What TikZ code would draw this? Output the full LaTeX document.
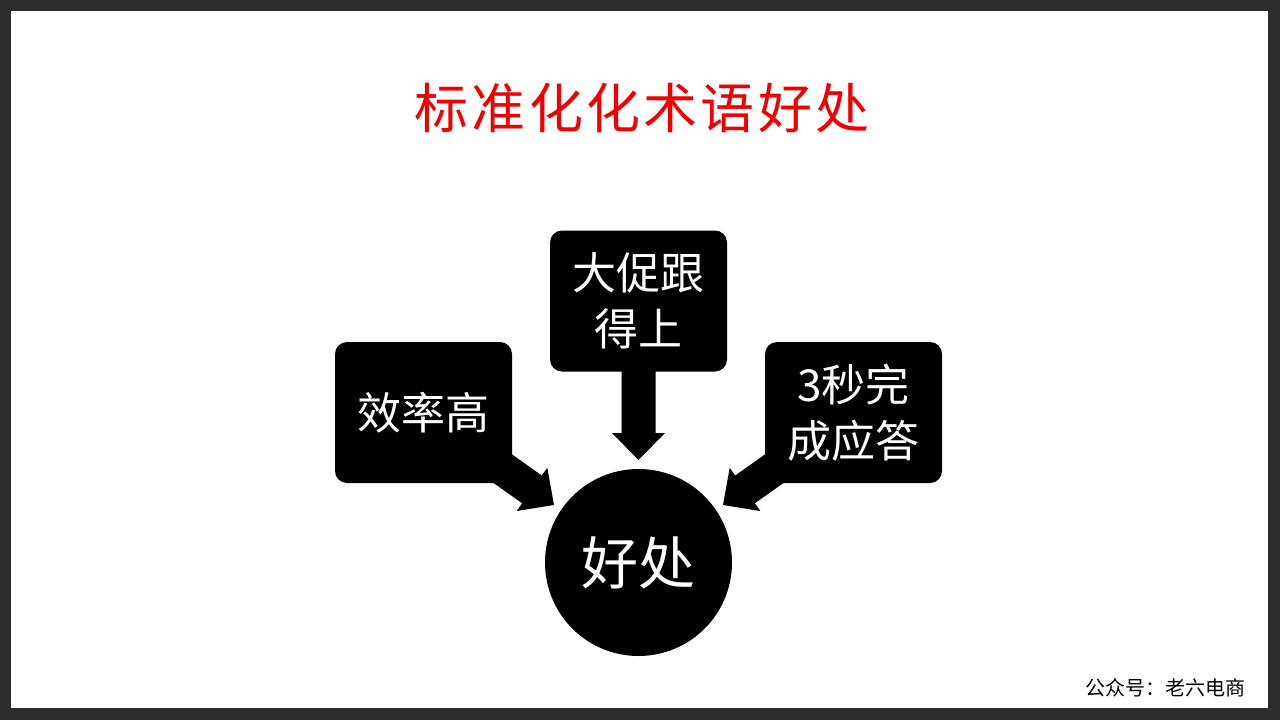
\documentclass[tikz,border=0pt]{standalone}
\usepackage{fontspec}
\setmainfont{Noto Sans CJK SC}
\newfontfamily\titlefont[LetterSpace=6]{Noto Sans CJK SC}
\usetikzlibrary{calc}
\definecolor{framegray}{HTML}{2D2D2D}
\definecolor{titlered}{HTML}{F00000}
\pgfdeclarelayer{back}
\pgfdeclarelayer{bg}
\pgfsetlayers{back,bg,main}
\newcommand\fatarrow[2]{%
  \coordinate (#1-#2-h) at ($(#2)!27pt!(#1)$);
  \fill[arrowfill] ($(#1)!17pt!90:(#2)$) -- ($(#1-#2-h)!17pt!-90:(#1)$)
    -- ($(#1-#2-h)!26.5pt!-90:(#1)$) -- (#2)
    -- ($(#1-#2-h)!26.5pt!90:(#1)$) -- ($(#1-#2-h)!17pt!90:(#1)$)
    -- ($(#1)!17pt!-90:(#2)$) -- cycle;}
\tikzset{
  box/.style={fill=black, rounded corners=12pt, minimum width=177pt, minimum height=141pt,
    inner sep=0pt, text=white, align=center, font=\fontsize{44}{56}\selectfont},
  hubnode/.style={circle, fill=black, minimum size=187pt, inner sep=0pt, text=white,
    font=\fontsize{57}{60}\selectfont},
  arrowfill/.style={fill=black},
  titletext/.style={text=titlered, inner sep=0pt, font=\titlefont\fontsize{54}{60}\selectfont},
  foottext/.style={text=black, inner sep=0pt, font=\fontsize{20}{22}\selectfont}
}
\begin{document}
\begin{tikzpicture}[x=1pt,y=-1pt]
\begin{pgfonlayer}{back}
  \fill[framegray] (0,0) rectangle (1280,720);
  \fill[white] (11,11) rectangle (1268,708);
\end{pgfonlayer}
\useasboundingbox (0,0) rectangle (1280,720);

\node[titletext] (title) at (642,108) {标准化化术语好处};

\node[box] (topbox) at (638.5,301) {大促跟\\得上};
\node[box] (leftbox) at (423.5,412.5) {效率高};
\node[box] (rightbox) at (853.5,412.5) {3秒完\\成应答};
\node[hubnode] (hub) at (638.5,562.5) {好处};

\coordinate (toptip) at (638.5,460);
\coordinate (lefttip) at (554,505);
\coordinate (righttip) at (723,505);

\begin{pgfonlayer}{bg}
  \fatarrow{topbox}{toptip}
  \fatarrow{leftbox}{lefttip}
  \fatarrow{rightbox}{righttip}
\end{pgfonlayer}

\node[foottext, anchor=east] (footer) at (1246,688) {公众号：老六电商};
\end{tikzpicture}
\end{document}
